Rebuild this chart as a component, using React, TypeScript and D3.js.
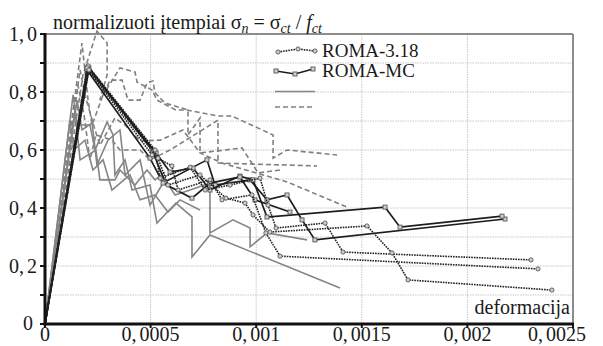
import React from "react";
import * as d3 from "d3";

type Pt = [number, number];

// ROMA-3.18 (dotted, circles)
const roma318: Pt[][] = [
  [[0, 0], [0.000204, 0.89], [0.000521, 0.6], [0.000545, 0.503], [0.000687, 0.541], [0.000758, 0.462], [0.000876, 0.479], [0.001018, 0.503], [0.001056, 0.41], [0.001094, 0.331], [0.001326, 0.348], [0.001411, 0.248], [0.002301, 0.221]],
  [[0, 0], [0.000199, 0.883], [0.000507, 0.583], [0.000601, 0.545], [0.00063, 0.462], [0.000781, 0.497], [0.000838, 0.428], [0.00098, 0.445], [0.001046, 0.314], [0.001113, 0.234], [0.002334, 0.19]],
  [[0, 0], [0.000208, 0.876], [0.000535, 0.572], [0.000582, 0.479], [0.000734, 0.514], [0.000857, 0.434], [0.000947, 0.417], [0.000985, 0.376], [0.001065, 0.317], [0.001525, 0.338], [0.001643, 0.245], [0.001719, 0.152], [0.0024, 0.117]],
];

// ROMA-MC (solid black, squares)
const romaMC: Pt[][] = [
  [[0, 0], [0.000204, 0.886], [0.000507, 0.6], [0.000568, 0.49], [0.000767, 0.566], [0.000805, 0.479], [0.000971, 0.497], [0.001051, 0.428], [0.001146, 0.445], [0.001217, 0.359], [0.001278, 0.29], [0.002178, 0.362]],
  [[0, 0], [0.000208, 0.883], [0.000526, 0.59], [0.000592, 0.524], [0.000701, 0.538], [0.000781, 0.462], [0.000923, 0.51], [0.000985, 0.497], [0.001051, 0.369], [0.00161, 0.403], [0.001681, 0.334], [0.002164, 0.372]],
  [[0, 0], [0.000199, 0.876], [0.000497, 0.572], [0.000559, 0.486], [0.000696, 0.434], [0.000781, 0.486], [0.000923, 0.507], [0.000994, 0.428], [0.00116, 0.386]],
];

// test series, gray solid
const testSolid: Pt[][] = [
  [[0, 0], [0.000133, 0.79], [0.000152, 0.686], [0.000213, 0.686], [0.000237, 0.6], [0.000294, 0.697], [0.000322, 0.652], [0.000331, 0.514], [0.000379, 0.566], [0.000412, 0.462], [0.000497, 0.479], [0.00053, 0.348], [0.00062, 0.417], [0.000696, 0.369], [0.000696, 0.231], [0.000781, 0.307], [0.001397, 0.124]],
  [[0, 0], [0.000152, 0.772], [0.000175, 0.669], [0.000223, 0.693], [0.000246, 0.548], [0.000298, 0.634], [0.000355, 0.669], [0.000379, 0.514], [0.00045, 0.566], [0.000497, 0.41], [0.000568, 0.497], [0.000616, 0.445], [0.000687, 0.462], [0.000781, 0.486], [0.000781, 0.314], [0.00089, 0.359], [0.000971, 0.331], [0.000971, 0.266], [0.001051, 0.314], [0.001241, 0.29]],
  [[0, 0], [0.000118, 0.703], [0.000137, 0.6], [0.000189, 0.634], [0.000227, 0.531], [0.000275, 0.566], [0.000317, 0.462], [0.000402, 0.514], [0.00045, 0.428], [0.000521, 0.445], [0.000582, 0.386], [0.000639, 0.428], [0.000734, 0.393]],
  [[0, 0], [0.000142, 0.738], [0.000166, 0.566], [0.000241, 0.6], [0.00026, 0.497], [0.000331, 0.497], [0.000355, 0.531], [0.000426, 0.479], [0.000483, 0.531], [0.000521, 0.497], [0.000568, 0.524]],
];

// test series, gray dashed
const testDashed: Pt[][] = [
  [[0, 0], [0.00018, 0.859], [0.000246, 1.01], [0.000294, 0.969], [0.000294, 0.859], [0.00026, 0.772], [0.000355, 0.883], [0.000426, 0.869], [0.000436, 0.834], [0.000507, 0.807], [0.00053, 0.772], [0.00062, 0.738], [0.000672, 0.738], [0.000819, 0.717], [0.000885, 0.717], [0.00108, 0.652], [0.00108, 0.572], [0.001146, 0.6], [0.001383, 0.583]],
  [[0, 0], [0.000175, 0.969], [0.000204, 0.772], [0.000223, 0.686], [0.000275, 0.79], [0.000308, 0.841], [0.000365, 0.841], [0.000393, 0.772], [0.00045, 0.772], [0.000483, 0.831], [0.000511, 0.838], [0.000521, 0.797], [0.000568, 0.762], [0.000677, 0.738], [0.000677, 0.652], [0.000734, 0.71], [0.000734, 0.59], [0.000933, 0.607], [0.001009, 0.521], [0.001113, 0.531]],
  [[0, 0], [0.000166, 0.876], [0.000189, 0.79], [0.000237, 0.669], [0.00026, 0.617], [0.000331, 0.71], [0.000379, 0.686], [0.00045, 0.631], [0.000545, 0.634], [0.000653, 0.669], [0.000734, 0.59], [0.000838, 0.555], [0.001146, 0.49], [0.00143, 0.403]],
  [[0, 0], [0.000156, 0.824], [0.000185, 0.721], [0.000213, 0.566], [0.000241, 0.652], [0.000317, 0.634], [0.000355, 0.6], [0.00045, 0.6], [0.000497, 0.566], [0.000592, 0.6], [0.000819, 0.703], [0.000819, 0.555], [0.001288, 0.545]],
];

const xTicks = [0, 0.0005, 0.001, 0.0015, 0.002, 0.0025];
const xTickLabels = ["0", "0,0005", "0,001", "0,0015", "0,002", "0,0025"];
const yTicks = [0, 0.2, 0.4, 0.6, 0.8, 1.0];
const yTickLabels = ["0", "0,2", "0,4", "0,6", "0,8", "1,0"];
const legendNames = ["ROMA-3.18", "ROMA-MC"];

const W = 603;
const H = 346;
const FONT = '"Liberation Serif", "Times New Roman", "DejaVu Serif", serif';

const x = d3.scaleLinear().domain([0, 0.0025]).range([45, 573]);
const y = d3.scaleLinear().domain([0, 1]).range([324, 34]);
const line = d3.line<Pt>().x((d) => x(d[0])).y((d) => y(d[1]));

const txt = { fontFamily: FONT, fill: "#1a1a1a" };

const Num = ({ s }: { s: string }) => {
  const parts = s.split(",");
  if (parts.length < 2) return <>{s}</>;
  return (
    <>
      {parts[0]},<tspan dx={3}>{parts[1]}</tspan>
    </>
  );
};

export default function App() {
  const gridX = d3.range(1, 5).map((i) => i * 0.0005);
  const gridY = d3.range(1, 10).map((i) => i / 10);
  const minorY = d3.range(0, 11).map((i) => i / 10);

  return (
    <div style={{ position: "absolute", left: 0, top: 0 }}>
      <svg width={W} height={H} viewBox={`0 0 ${W} ${H}`} style={{ display: "block", background: "#fff", fontFamily: FONT }}>
        {/* grid */}
        {gridX.map((v) => (
          <line key={"gx" + v} x1={x(v)} x2={x(v)} y1={y(1)} y2={y(0)} stroke="#c8c8c8" strokeWidth={1} strokeDasharray="1.5,1" />
        ))}
        {gridY.map((v) => (
          <line key={"gy" + v} x1={x(0)} x2={x(0.0025)} y1={y(v)} y2={y(v)} stroke="#c8c8c8" strokeWidth={1} strokeDasharray="1.5,1" />
        ))}
        {/* frame */}
        <line x1={x(0)} x2={x(0.0025)} y1={y(1)} y2={y(1)} stroke="#8c8c8c" strokeWidth={2} />
        <line x1={x(0.0025)} x2={x(0.0025)} y1={y(1)} y2={y(0)} stroke="#8c8c8c" strokeWidth={2} />

        {/* gray dashed */}
        {testDashed.map((s, i) => (
          <path key={"d" + i} d={line(s) || ""} fill="none" stroke="#808080" strokeWidth={1.6} strokeDasharray="5,3" />
        ))}
        {/* gray solid */}
        {testSolid.map((s, i) => (
          <path key={"s" + i} d={line(s) || ""} fill="none" stroke="#858585" strokeWidth={1.6} />
        ))}
        {/* ROMA-MC */}
        {romaMC.map((s, i) => (
          <g key={"m" + i}>
            <path d={line(s) || ""} fill="none" stroke="#1c1c1c" strokeWidth={1.7} />
            {s.slice(1).map((p, j) => (
              <rect key={j} x={x(p[0]) - 2} y={y(p[1]) - 2} width={4} height={4} fill="#d0d0d0" stroke="#555" strokeWidth={0.9} />
            ))}
          </g>
        ))}
        {/* ROMA-3.18 */}
        {roma318.map((s, i) => (
          <g key={"r" + i}>
            <path d={line(s) || ""} fill="none" stroke="#222" strokeWidth={1.6} strokeDasharray="1.6,1" />
            {s.slice(1).map((p, j) => (
              <circle key={j} cx={x(p[0])} cy={y(p[1])} r={2.1} fill="#d0d0d0" stroke="#555" strokeWidth={0.9} />
            ))}
          </g>
        ))}

        {/* axes */}
        {minorY.map((v) => (
          <line key={"ty" + v} x1={x(0) - 5} x2={x(0)} y1={y(v)} y2={y(v)} stroke="#111" strokeWidth={2} />
        ))}
        {xTicks.map((v) => (
          <line key={"tx" + v} x1={x(v)} x2={x(v)} y1={y(0)} y2={y(0) + 4} stroke="#111" strokeWidth={2} />
        ))}
        <line x1={x(0)} x2={x(0)} y1={y(1) - 1} y2={y(0) + 1.5} stroke="#111" strokeWidth={3} />
        <line x1={x(0) - 1.5} x2={x(0.0025) + 1} y1={y(0)} y2={y(0)} stroke="#111" strokeWidth={3} />

        {/* tick labels */}
        {yTicks.map((v, i) => (
          <text key={"ly" + v} x={v === 0 ? 33 : 37} y={v === 0 ? y(v) + 6 : y(v) + 7} textAnchor="end" fontSize={20} style={txt}>
            <Num s={yTickLabels[i]} />
          </text>
        ))}
        {xTicks.map((v, i) => (
          <text key={"lx" + v} x={i === xTicks.length - 1 ? 586 : x(v)} y={341} textAnchor={i === xTicks.length - 1 ? "end" : "middle"} fontSize={20} style={txt}>
            <Num s={xTickLabels[i]} />
          </text>
        ))}

        {/* axis titles */}
        <text x={570} y={314} textAnchor="end" fontSize={20} style={txt}>deformacija</text>
        <text x={53} y={29} fontSize={20} style={txt}>
          normalizuoti įtempiai σ
          <tspan fontStyle="italic" fontSize={14} dy={4}>n</tspan>
          <tspan dy={-4}> = σ</tspan>
          <tspan fontStyle="italic" fontSize={14} dy={4}>ct</tspan>
          <tspan dy={-4}> / </tspan>
          <tspan fontStyle="italic">f</tspan>
          <tspan fontStyle="italic" fontSize={14} dy={4}>ct</tspan>
        </text>

        {/* legend */}
        <g>
          <path d="M278,52 L298,49 L315,51" fill="none" stroke="#222" strokeWidth={1.6} strokeDasharray="1.6,1" />
          {[[278, 52], [298, 49], [315, 51]].map((p, j) => (
            <circle key={j} cx={p[0]} cy={p[1]} r={2.1} fill="#d0d0d0" stroke="#555" strokeWidth={0.9} />
          ))}
          <text x={322} y={57} fontSize={19} style={txt}>{legendNames[0]}</text>
          <path d="M276,71 L295,74 L313,69" fill="none" stroke="#1c1c1c" strokeWidth={1.7} />
          {[[276, 71], [295, 74], [313, 69]].map((p, j) => (
            <rect key={j} x={p[0] - 2} y={p[1] - 2} width={4} height={4} fill="#d0d0d0" stroke="#555" strokeWidth={0.9} />
          ))}
          <text x={322} y={77} fontSize={19} style={txt}>{legendNames[1]}</text>
          <line x1={275} x2={315} y1={91.5} y2={91.5} stroke="#858585" strokeWidth={1.6} />
          <line x1={275} x2={315} y1={107} y2={107} stroke="#808080" strokeWidth={1.6} strokeDasharray="5,3" />
        </g>
      </svg>
    </div>
  );
}
